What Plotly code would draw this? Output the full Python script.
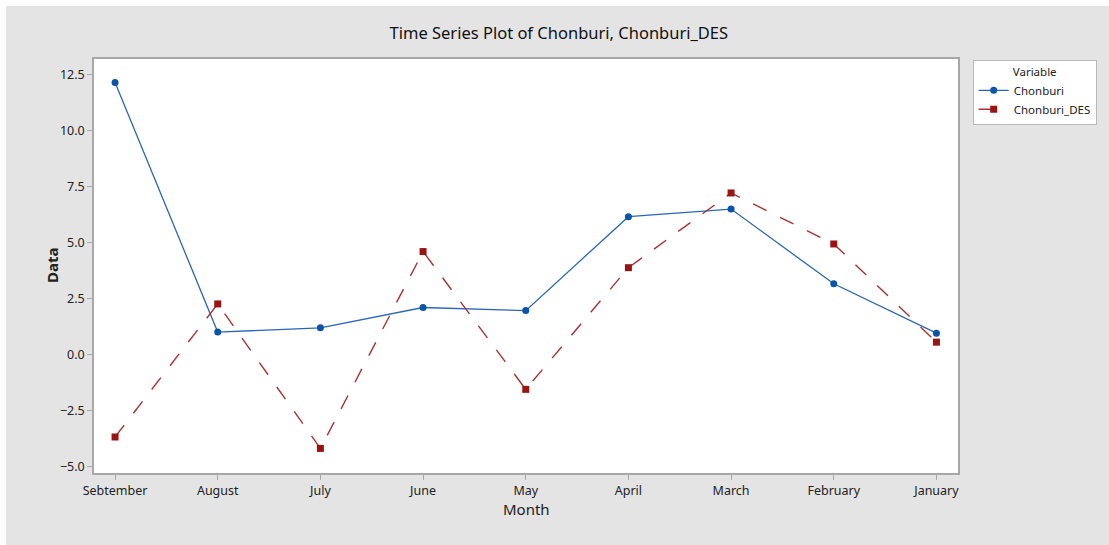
import plotly.graph_objects as go

months = ["Sebtember", "August", "July", "June", "May", "April", "March", "February", "January"]
chonburi = [12.16, 1.0, 1.19, 2.1, 1.96, 6.16, 6.5, 3.16, 0.95]
chonburi_des = [-3.69, 2.26, -4.2, 4.6, -1.56, 3.88, 7.22, 4.94, 0.55]
y_ticks = [-5.0, -2.5, 0.0, 2.5, 5.0, 7.5, 10.0, 12.5]

FONT = "Noto Sans"
GRAY_BG = "#e4e4e4"

fig = go.Figure()

fig.add_trace(go.Scatter(
    x=months, y=chonburi, name="Chonburi",
    mode="lines+markers",
    line=dict(color="#2a66b8", width=1.3),
    marker=dict(symbol="circle", size=7, color="#0a55a8"),
))

fig.add_trace(go.Scatter(
    x=months, y=chonburi_des, name="Chonburi_DES",
    mode="lines+markers",
    line=dict(color="#a83232", width=1.4, dash="longdash"),
    marker=dict(symbol="square", size=7, color="#9a1414"),
))

# thin white strips along top and left edge (outside the plot area)
fig.add_shape(type="rect", xref="paper", yref="paper",
              x0=-0.2, x1=1.3, y0=(473 - 6) / 414, y1=1.2,
              fillcolor="white", line=dict(width=0), layer="below")
fig.add_shape(type="rect", xref="paper", yref="paper",
              x0=-0.2, x1=(6 - 94) / 864, y0=-0.3, y1=1.2,
              fillcolor="white", line=dict(width=0), layer="below")

fig.add_annotation(text="Data", xref="paper", yref="paper", x=-0.0625, y=0.5,
                   textangle=-90, showarrow=False,
                   font=dict(family=FONT, size=15, color="#222", weight="bold"))
fig.add_annotation(text="Month", xref="paper", yref="paper", x=0.5, y=-0.116,
                   showarrow=False, font=dict(family=FONT, size=15, color="#222"))

fig.update_layout(
    width=1109, height=545,
    paper_bgcolor=GRAY_BG,
    plot_bgcolor="white",
    margin=dict(l=94, r=151, t=59, b=72),
    font=dict(family=FONT, color="#222"),
    title=dict(text="Time Series Plot of Chonburi, Chonburi_DES",
               x=0.538, xref="paper", xanchor="center",
               y=1 - 33 / 545, yref="container", yanchor="middle",
               font=dict(family=FONT, size=16.5, color="#111")),
    xaxis=dict(
        type="category", range=[-0.205, 8.21],
        showgrid=False, zeroline=False,
        showline=True, linecolor="#a8a8a8", linewidth=1.5, mirror=True,
        ticks="outside", ticklen=5, tickcolor="#a8a8a8",
        tickfont=dict(family=FONT, size=12.5, color="#222"),
    ),
    yaxis=dict(
        range=[-5.3, 13.21],
        tickvals=y_ticks, tickformat=".1f",
        showgrid=False, zeroline=False,
        showline=True, linecolor="#a8a8a8", linewidth=1.5, mirror=True,
        ticks="outside", ticklen=5, tickcolor="#a8a8a8",
        tickfont=dict(family=FONT, size=12.5, color="#222"),
    ),
    legend=dict(
        x=1.017, y=0.998, xanchor="left", yanchor="top",
        bgcolor="white", bordercolor="#b8b8b8", borderwidth=1,
        title=dict(text="Variable", side="top center",
                   font=dict(family=FONT, size=11.5, color="#222")),
        font=dict(family=FONT, size=11.5, color="#222"),
        tracegroupgap=2,
    ),
)

fig.write_html("out.html", config={"displayModeBar": False},
               post_script="document.body.style.margin='0';")
